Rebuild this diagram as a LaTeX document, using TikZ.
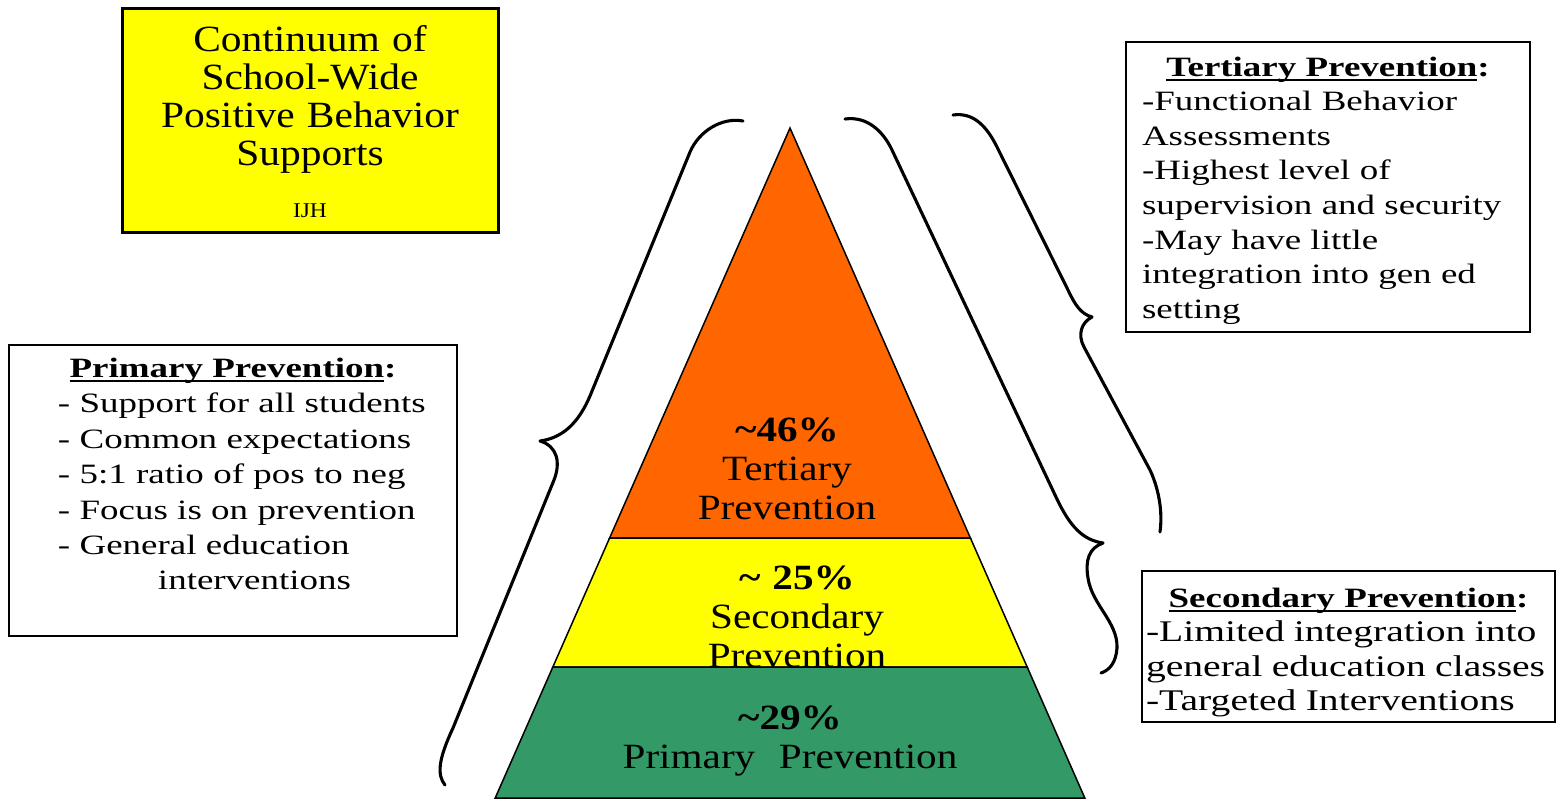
\documentclass[tikz,border=0pt]{standalone}
\usepackage{fontspec}
\setmainfont{Liberation Serif}
\newfontfamily\boxfont{Liberation Serif}[FakeStretch=1.32]
\newfontfamily\pyrfont{Liberation Serif}[FakeStretch=1.16]
\newfontfamily\ttlfont{Liberation Serif}[FakeStretch=1.12]
\definecolor{tertcol}{HTML}{FF6600}
\definecolor{seccol}{HTML}{FFFF00}
\definecolor{primcol}{HTML}{339966}
\newcommand\hdr[1]{\setbox0\hbox{\bfseries #1}\rlap{\rule[-5pt]{\wd0}{2pt}}\box0\textbf{:}}

\begin{document}
\begin{tikzpicture}[x=1pt,y=-1pt,
    infobox/.style={draw,line width=1.8pt,outer sep=0pt,anchor=north west,align=left,
      inner ysep=0pt,font=\boxfont\fontsize{28}{34.6}\selectfont},
    tierlbl/.style={anchor=base,align=center,text width=400pt,inner sep=0pt,
      font=\pyrfont\fontsize{35.5}{39}\selectfont},
    curly/.style={line width=3.1pt,line cap=round,line join=round}]
  \path[use as bounding box,fill=white] (0,0) rectangle (1557,798);

  % pyramid bands
  \foreach \ya/\yb/\c [evaluate={\xa=0.44*(\ya-128); \xb=0.44*(\yb-128);}]
     in {128/538/tertcol,538/667/seccol,667/798/primcol}{
    \draw[fill=\c,line width=1.5pt] (790-\xa,\ya) -- (790+\xa,\ya) -- (790+\xb,\yb) -- (790-\xb,\yb) -- cycle;
  }
  \node[tierlbl] (t3lbl) at (787,441) {\textbf{\textasciitilde46\%}\\ Tertiary\\ Prevention};
  \node[tierlbl] (t2lbl) at (797,589) {\textbf{\textasciitilde\ 25\%}\\ Secondary\\ Prevention};
  \node[tierlbl] (t1lbl) at (790,729) {\textbf{\textasciitilde29\%}\\ Primary\ \ Prevention};

  % title
  \node[draw,fill=seccol,line width=3pt,outer sep=0pt,anchor=north west,align=center,
    text width=356pt,inner xsep=10pt,inner ysep=0pt,text height=43pt,text depth=181pt,
    font=\ttlfont\fontsize{37}{38.3}\selectfont] (title) at (122,8)
    {Continuum of\\ School-Wide\\ Positive Behavior\\ Supports\par {\fontsize{21}{52}\selectfont IJH\par}};

  % side boxes
  \node[infobox,inner xsep=16pt,text width=372pt,text height=34pt,text depth=256pt] (tertbox) at (1126,42)
    {\hfill\hdr{Tertiary Prevention}\hfill\null\\
     -Functional Behavior\\ Assessments\\ -Highest level of\\ supervision and security\\
     -May have little\\ integration into gen ed\\ setting};
  \node[infobox,inner xsep=10pt,text width=428pt,text height=32pt,text depth=259pt] (primbox) at (9,345)
    {\hfill\hdr{Primary Prevention}\hfill\null\par\leftskip=39pt\relax\fontsize{28}{35.5}\selectfont
     - Support for all students\\ - Common expectations\\ - 5:1 ratio of pos to neg\\
     - Focus is on prevention\\ - General education\\ \hspace*{139pt}interventions};
  \node[infobox,inner xsep=4pt,text width=405pt,text height=36pt,text depth=115pt] (secbox) at (1142,571)
    {\hfill\hdr{Secondary Prevention}\hfill\null\par\fontsize{30}{34.5}\selectfont
     -Limited integration into\\ general education classes\\ -Targeted Interventions};

  % braces
  \draw[curly] (743,121) .. controls (722,117) and (699,131) .. (690,152)
    -- (590,396) .. controls (578,424) and (562,438) .. (540,441)
    .. controls (557,446) and (561,462) .. (554,480)
    -- (453,728) .. controls (438,760) and (437,775) .. (445,785);
  \draw[curly] (845,119) .. controls (867,116) and (883,131) .. (892,150)
    -- (1056,497) .. controls (1070,527) and (1083,540) .. (1103,543)
    .. controls (1089,548) and (1085,560) .. (1088,578)
    .. controls (1092,605) and (1118,622) .. (1117,648)
    .. controls (1116,662) and (1110,670) .. (1101,673);
  \draw[curly] (953,115) .. controls (974,112) and (987,127) .. (997,147)
    -- (1068,290) .. controls (1075,305) and (1081,314) .. (1092,317)
    .. controls (1082,322) and (1077,334) .. (1084,347)
    -- (1150,470) .. controls (1158,487) and (1163,510) .. (1160,532);
\end{tikzpicture}
\end{document}
